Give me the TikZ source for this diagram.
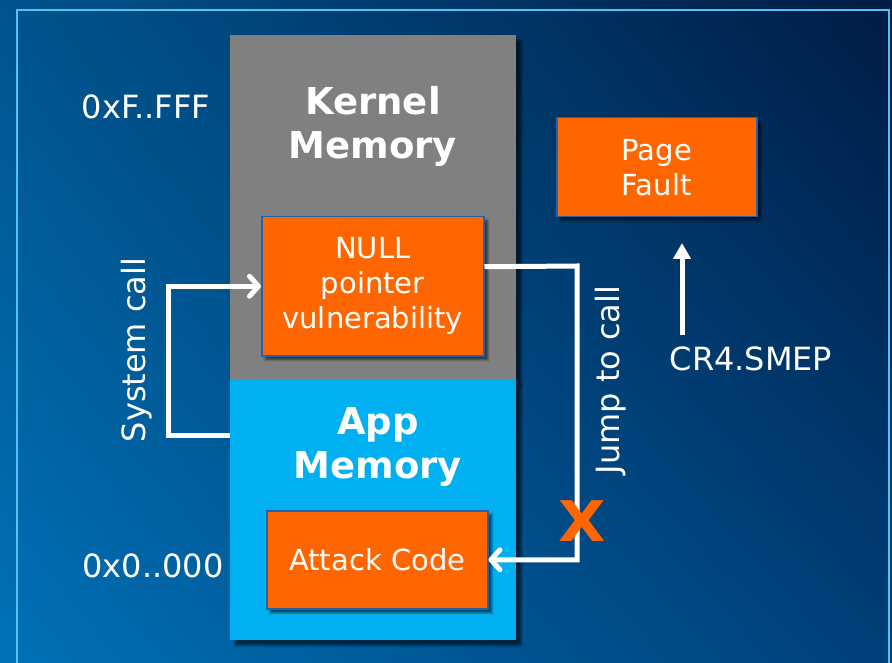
\documentclass[tikz,border=0pt]{standalone}
\usepackage{fontspec}
\setmainfont{DejaVu Sans}
\usetikzlibrary{arrows.meta,shadows.blur,shadings,calc}
\definecolor{bgul}{HTML}{00548E}
\definecolor{bgur}{HTML}{001B44}
\definecolor{bgll}{HTML}{0071B6}
\definecolor{bglr}{HTML}{003F78}
\definecolor{framecol}{HTML}{4FC4F4}
\definecolor{kgray}{HTML}{808080}
\definecolor{appcyan}{HTML}{00B0F0}
\definecolor{boxorange}{HTML}{FF6600}
\definecolor{boxedge}{HTML}{1F62B0}
\tikzset{
  x=1pt, y=-1pt,
  column/.style={draw=none, anchor=north west, inner sep=0pt, blur shadow={shadow xshift=5pt, shadow yshift=-5pt, shadow blur steps=6, shadow opacity=60}},
  obox/.style={fill=boxorange, draw=boxedge, line width=1.5pt, anchor=north west, inner sep=0pt, blur shadow={shadow xshift=4pt, shadow yshift=-4pt, shadow blur steps=5, shadow opacity=60}},
  reg/.style={text=white, font=\fontsize{29}{35}\selectfont, align=center},
  side/.style={text=white, font=\fontsize{32}{38}\selectfont, align=center},
  bigb/.style={text=white, font=\fontsize{37}{44}\bfseries\selectfont, align=center},
  wline/.style={draw=white, line width=5pt},
  barb/.style={-{Straight Barb[length=9pt,width=20pt,round]}},
  xmark/.style={font=\fontsize{56}{56}\bfseries\selectfont, xscale=1.1},
}
\begin{document}
\begin{tikzpicture}
\useasboundingbox (0,0) rectangle (892,663);
\begin{scope}
\clip (0,0) rectangle (892,663);
\shade[upper left=bgul, upper right=bgur, lower left=bgll, lower right=bglr] (0,0) rectangle (892,663);
\draw[framecol, line width=2pt] (17,10) rectangle (889,700);
\end{scope}

% memory columns
\node[column, fill=kgray, minimum width=286pt, minimum height=345pt] (kernel) at (230,35) {};
\node[column, fill=appcyan, minimum width=286pt, minimum height=260pt] (app) at (230,380) {};

\node[bigb] (kerneltxt) at (373,126) {Kernel\\Memory};
\node[bigb] (apptxt) at (378,447) {App\\Memory};

% orange boxes
\node[obox, minimum width=222pt, minimum height=139pt] (null) at (261,216) {};
\node[reg] (nulltxt) at (null.center) {NULL\\pointer\\vulnerability};

\node[obox, minimum width=221pt, minimum height=98pt] (attack) at (266,510) {};
\node[reg] (attacktxt) at (attack.center) {Attack Code};

\node[obox, minimum width=200pt, minimum height=99pt] (pf) at (556,117) {};
\node[reg] (pftxt) at (pf.center) {Page\\Fault};

% labels
\node[side] (hi) at (146,107) {0xF..FFF};
\node[side] (lo) at (153,566) {0x0..000};
\node[side] (smep) at (751,359) {CR4.SMEP};
\node[side, rotate=90] (sys) at (137,350) {System call};
\node[side, rotate=90] (jump) at (611,380) {Jump to call};

% system call loop
\coordinate (sysstart) at (230,435);
\draw[wline, barb] (sysstart) -- (168,435) |- (null.west);

% jump to call
\coordinate (jstart) at ($(null.east)+(0,-19.5)$);
\coordinate (jcorner) at (577,266);
\draw[wline, barb] (jstart) -- (jcorner) |- (attack.east);

% blocked X
\node[xmark, text=boxorange] (x) at (582,521) {X};

% SMEP arrow
\coordinate (smeptop) at (682,243);
\coordinate (smepbase) at (682,335);
\draw[wline, -{Triangle[length=16pt,width=17pt]}] (smepbase) -- (smeptop);
\end{tikzpicture}
\end{document}
